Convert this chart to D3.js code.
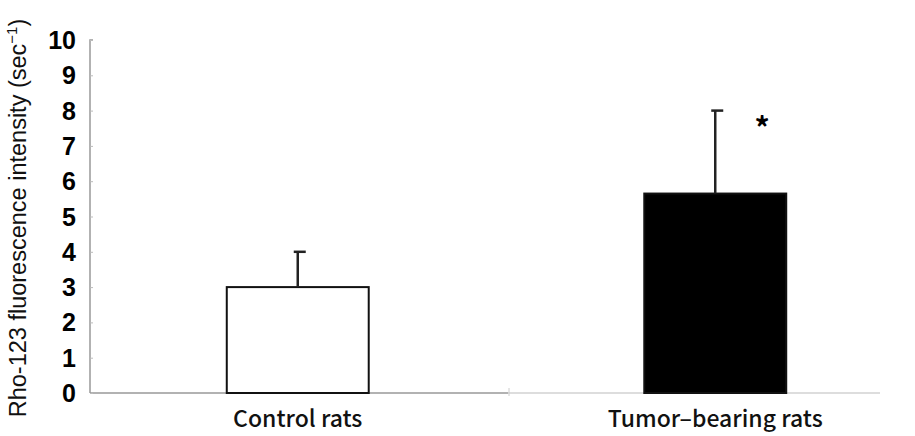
<!DOCTYPE html>
<html>
	<head>
		<meta charset="UTF-8">
		<title>Rho-123 fluorescence intensity</title>
		<script type="text/javascript" src="https://cdnjs.cloudflare.com/ajax/libs/d3/7.8.5/d3.min.js"></script>
		<style>
			body { margin: 0; background: #fff; }
			svg { display: block; }
		</style>
	</head>
	<body>
		<div id="draw-here"></div>
		<script>

		// Chart data

		var groups = ["Control rats", "Tumor\u2013bearing rats"];
		var means = [3.0, 5.65];
		var errors = [1.0, 2.35];
		var fills = ["#fff", "#000"];
		var yTicks = [0, 1, 2, 3, 4, 5, 6, 7, 8, 9, 10];

		// Size of chart

		var w = 915;
		var h = 436;

		var svg = d3.select("#draw-here")
			.append("svg")
			.attr("width", w)
			.attr("height", h);

		var y = d3.scaleLinear()
			.domain([0, 10])
			.range([393, 40]);

		var x = d3.scaleBand()
			.domain(groups)
			.range([89, 924])
			.paddingInner(0.66)
			.paddingOuter(0.33);

		// Baseline (darker to the left, lighter to the right)

		svg.append("line")
			.attr("x1", 90).attr("x2", 508)
			.attr("y1", y(0)).attr("y2", y(0))
			.attr("stroke", "#999").attr("stroke-width", 1.5);
		svg.append("line")
			.attr("x1", 508).attr("x2", 880)
			.attr("y1", y(0)).attr("y2", y(0))
			.attr("stroke", "#bbb").attr("stroke-width", 1.2);
		svg.append("line")
			.attr("x1", 509).attr("x2", 509)
			.attr("y1", y(0) - 5).attr("y2", y(0) + 3)
			.attr("stroke", "#ccc").attr("stroke-width", 1);

		// Y axis with small inward ticks

		var yAxis = svg.append("g")
			.attr("transform", "translate(90,0)")
			.call(d3.axisRight(y).tickValues(yTicks).tickSize(3).tickFormat(""));
		yAxis.select(".domain").attr("stroke", "#999").attr("stroke-width", 1.5)
			.attr("d", "M3," + y(10) + "H0V" + y(0));
		yAxis.selectAll(".tick line").attr("stroke", "#bbb");

		svg.append("g")
			.selectAll("text")
			.data(yTicks)
			.enter()
			.append("text")
			.attr("x", 76)
			.attr("y", function(d) { return y(d) + 9; })
			.attr("text-anchor", "end")
			.attr("font-family", "Liberation Sans, Arial, sans-serif")
			.attr("font-weight", "bold")
			.attr("font-size", "25px")
			.text(function(d) { return d; });

		// Y axis title

		var title = svg.append("text")
			.attr("transform", "translate(26,218) rotate(-90)")
			.attr("text-anchor", "middle")
			.attr("font-family", "Liberation Sans, Arial, sans-serif")
			.attr("font-size", "23.5px")
			.attr("fill", "#111");
		title.append("tspan").text("Rho-123 fluorescence  intensity (sec");
		title.append("tspan").attr("dy", -9).attr("font-size", "15px").text("\u22121");
		title.append("tspan").attr("dy", 9).text(")");

		// Bars

		svg.selectAll("rect.bar")
			.data(groups)
			.enter()
			.append("rect")
			.attr("class", "bar")
			.attr("x", function(d) { return x(d); })
			.attr("y", function(d, i) { return y(means[i]); })
			.attr("width", x.bandwidth())
			.attr("height", function(d, i) { return y(0) - y(means[i]); })
			.attr("fill", function(d, i) { return fills[i]; })
			.attr("stroke", "#111")
			.attr("stroke-width", 2);

		// Error bars (upper only)

		var err = svg.selectAll("g.err")
			.data(groups)
			.enter()
			.append("g")
			.attr("class", "err");

		err.append("line")
			.attr("x1", function(d) { return x(d) + x.bandwidth() / 2; })
			.attr("x2", function(d) { return x(d) + x.bandwidth() / 2; })
			.attr("y1", function(d, i) { return y(means[i]); })
			.attr("y2", function(d, i) { return y(means[i] + errors[i]); })
			.attr("stroke", "#222")
			.attr("stroke-width", 2.5);

		err.append("line")
			.attr("x1", function(d) { return x(d) + x.bandwidth() / 2 - 4; })
			.attr("x2", function(d) { return x(d) + x.bandwidth() / 2 + 8; })
			.attr("y1", function(d, i) { return y(means[i] + errors[i]); })
			.attr("y2", function(d, i) { return y(means[i] + errors[i]); })
			.attr("stroke", "#222")
			.attr("stroke-width", 2.5);

		// Significance mark

		svg.append("text")
			.attr("x", x(groups[1]) + x.bandwidth() - 24)
			.attr("y", y(7.9) + 25)
			.attr("text-anchor", "middle")
			.attr("font-family", "Noto Sans CJK JP, sans-serif")
			.attr("font-weight", "bold")
			.attr("font-size", "30px")
			.text("*");

		// Category labels

		svg.selectAll("text.cat")
			.data(groups)
			.enter()
			.append("text")
			.attr("class", "cat")
			.attr("x", function(d) { return x(d) + x.bandwidth() / 2; })
			.attr("y", 427)
			.attr("text-anchor", "middle")
			.attr("font-family", "Noto Sans CJK JP, DejaVu Sans, sans-serif")
			.attr("font-weight", "500")
			.attr("font-size", "23px")
			.attr("fill", "#111")
			.text(function(d) { return d; });

		</script>
	</body>
</html>
